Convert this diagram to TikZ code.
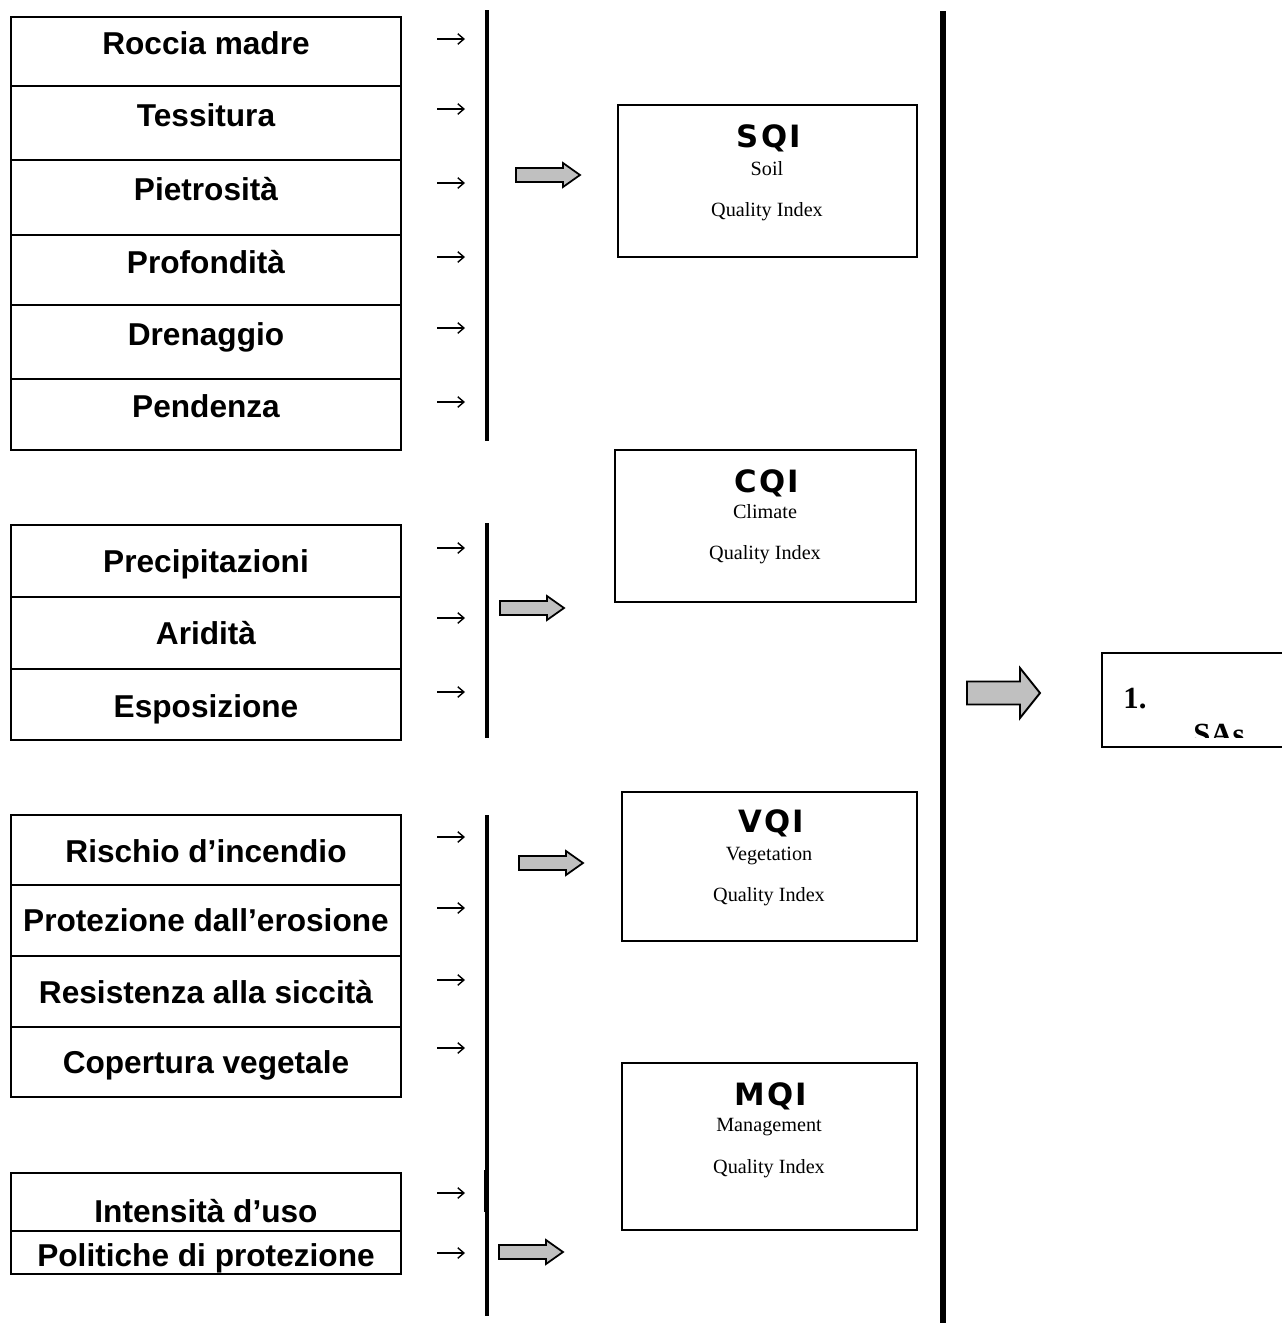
\documentclass[tikz,border=0pt]{standalone}
\usepackage{fontspec}
\setmainfont{Liberation Serif}
\newfontfamily\arialfont{Liberation Sans}
\newfontfamily\verdfont[LetterSpace=7]{DejaVu Sans}
\definecolor{arrgray}{RGB}{192,192,192}
\begin{document}
\begin{tikzpicture}[x=0.02cm,y=-0.02cm,
  rowbox/.style={draw, line width=1.5pt, minimum width=7.8cm, inner sep=0pt, outer sep=0pt},
  lt/.style={font=\arialfont\bfseries\fontsize{18}{20}\selectfont, inner sep=0pt, anchor=base},
  qbox/.style={draw, line width=1.5pt, inner sep=0pt, outer sep=0pt},
  qt/.style={font=\verdfont\bfseries\fontsize{17.5}{19}\selectfont, inner sep=0pt, anchor=base},
  st/.style={font=\fontsize{11.5}{13}\selectfont, inner sep=0pt, anchor=base},
  bigt/.style={font=\bfseries\fontsize{17.5}{20}\selectfont, inner sep=0pt, anchor=base},
  vline/.style={line width=2.4pt},
  smallarr/.style={line width=0.8pt, -{Straight Barb[length=3.5pt,width=6pt]}},
  grayarr/.pic={\draw[line width=1pt, fill=arrgray] (0,-7) -- (47,-7) -- (47,-12) -- (64,0) -- (47,12) -- (47,7) -- (0,7) -- cycle;},
  bigarr/.pic={\draw[line width=1.1pt, fill=arrgray] (0,-11.5) -- (53,-11.5) -- (53,-25) -- (73,0) -- (53,25) -- (53,11.5) -- (0,11.5) -- cycle;}
]
\usetikzlibrary{arrows.meta}
\clip (0,0) rectangle (1282,1323);
\fill[white] (0,0) rectangle (1282,1323);

% left tables
\foreach \n/\t/\b/\c/\s in {
  r1/17/86/43/Roccia madre, r2/86/160/115/Tessitura, r3/160/235/189/Pietrosità,
  r4/235/305/262/Profondità, r5/305/379/334/Drenaggio, r6/379/450/406/Pendenza,
  c1/525/597/561/Precipitazioni, c2/597/669/633/Aridità, c3/669/740/706/Esposizione,
  v1/815/885/851/Rischio d’incendio, v2/885/956/920/Protezione dall’erosione,
  v3/956/1027/992/Resistenza alla siccità, v4/1027/1097/1062/Copertura vegetale,
  m1/1173/1231/1211/Intensità d’uso, m2/1231/1274/1255/Politiche di protezione}
{
  \node[rowbox, minimum height={(\b-\t)*0.02cm}] (\n) at (206,{(\t+\b)/2}) {};
  \node[lt] (\n-t) at (206,{\c+11}) {\s};
}

% small arrows
\foreach \yy in {39,109,183,257,328,402,548,618,692,837,908,980,1048,1193,1253}
  \draw[smallarr] (437,\yy) -- (465,\yy);

% vertical bars
\coordinate (l1a) at (487,10);   \coordinate (l1b) at (487,441);
\coordinate (l2a) at (487,523);  \coordinate (l2b) at (487,738);
\coordinate (l3a) at (487,815);  \coordinate (l3b) at (487,1316);
\coordinate (l4a) at (486.5,1170); \coordinate (l4b) at (486.5,1212);
\coordinate (bga) at (943,11);   \coordinate (bgb) at (943,1323);
\draw[vline] (l1a) -- (l1b);
\draw[vline] (l2a) -- (l2b);
\draw[vline] (l3a) -- (l3b);
\draw[line width=2.8pt] (l4a) -- (l4b);
\draw[line width=3.1pt] (bga) -- (bgb);

% gray arrows
\pic at (516,175) {grayarr};
\pic at (500,608) {grayarr};
\pic at (519,863) {grayarr};
\pic at (499,1252) {grayarr};
\pic at (967,693) {bigarr};

% index boxes
\node[qbox, minimum width={299*0.02cm}, minimum height={152*0.02cm}] (sqi) at (767.5,181) {};
\node[qt] (sqi-a) at (769,147) {SQI};
\node[st] (sqi-b) at (767,175) {Soil};
\node[st] (sqi-c) at (767,216) {Quality Index};

\node[qbox, minimum width={301*0.02cm}, minimum height={152*0.02cm}] (cqi) at (765.5,526) {};
\node[qt] (cqi-a) at (767,492) {CQI};
\node[st] (cqi-b) at (765,518) {Climate};
\node[st] (cqi-c) at (765,559) {Quality Index};

\node[qbox, minimum width={295*0.02cm}, minimum height={149*0.02cm}] (vqi) at (769.5,866.5) {};
\node[qt] (vqi-a) at (771,832) {VQI};
\node[st] (vqi-b) at (769,860) {Vegetation};
\node[st] (vqi-c) at (769,901) {Quality Index};

\node[qbox, minimum width={295*0.02cm}, minimum height={167*0.02cm}] (mqi) at (769.5,1146.5) {};
\node[qt] (mqi-a) at (771,1105) {MQI};
\node[st] (mqi-b) at (769,1131) {Management};
\node[st] (mqi-c) at (769,1173) {Quality Index};

% right box
\node[qbox, minimum width={200*0.02cm}, minimum height={94*0.02cm}] (sas) at (1202,700) {};
\node[bigt] (sas-a) at (1135,708) {1.};
\begin{scope}
  \clip (1104,655) rectangle (1282,737);
  \node[bigt] (sas-b) at (1219,744) {SAs};
\end{scope}
\end{tikzpicture}
\end{document}
